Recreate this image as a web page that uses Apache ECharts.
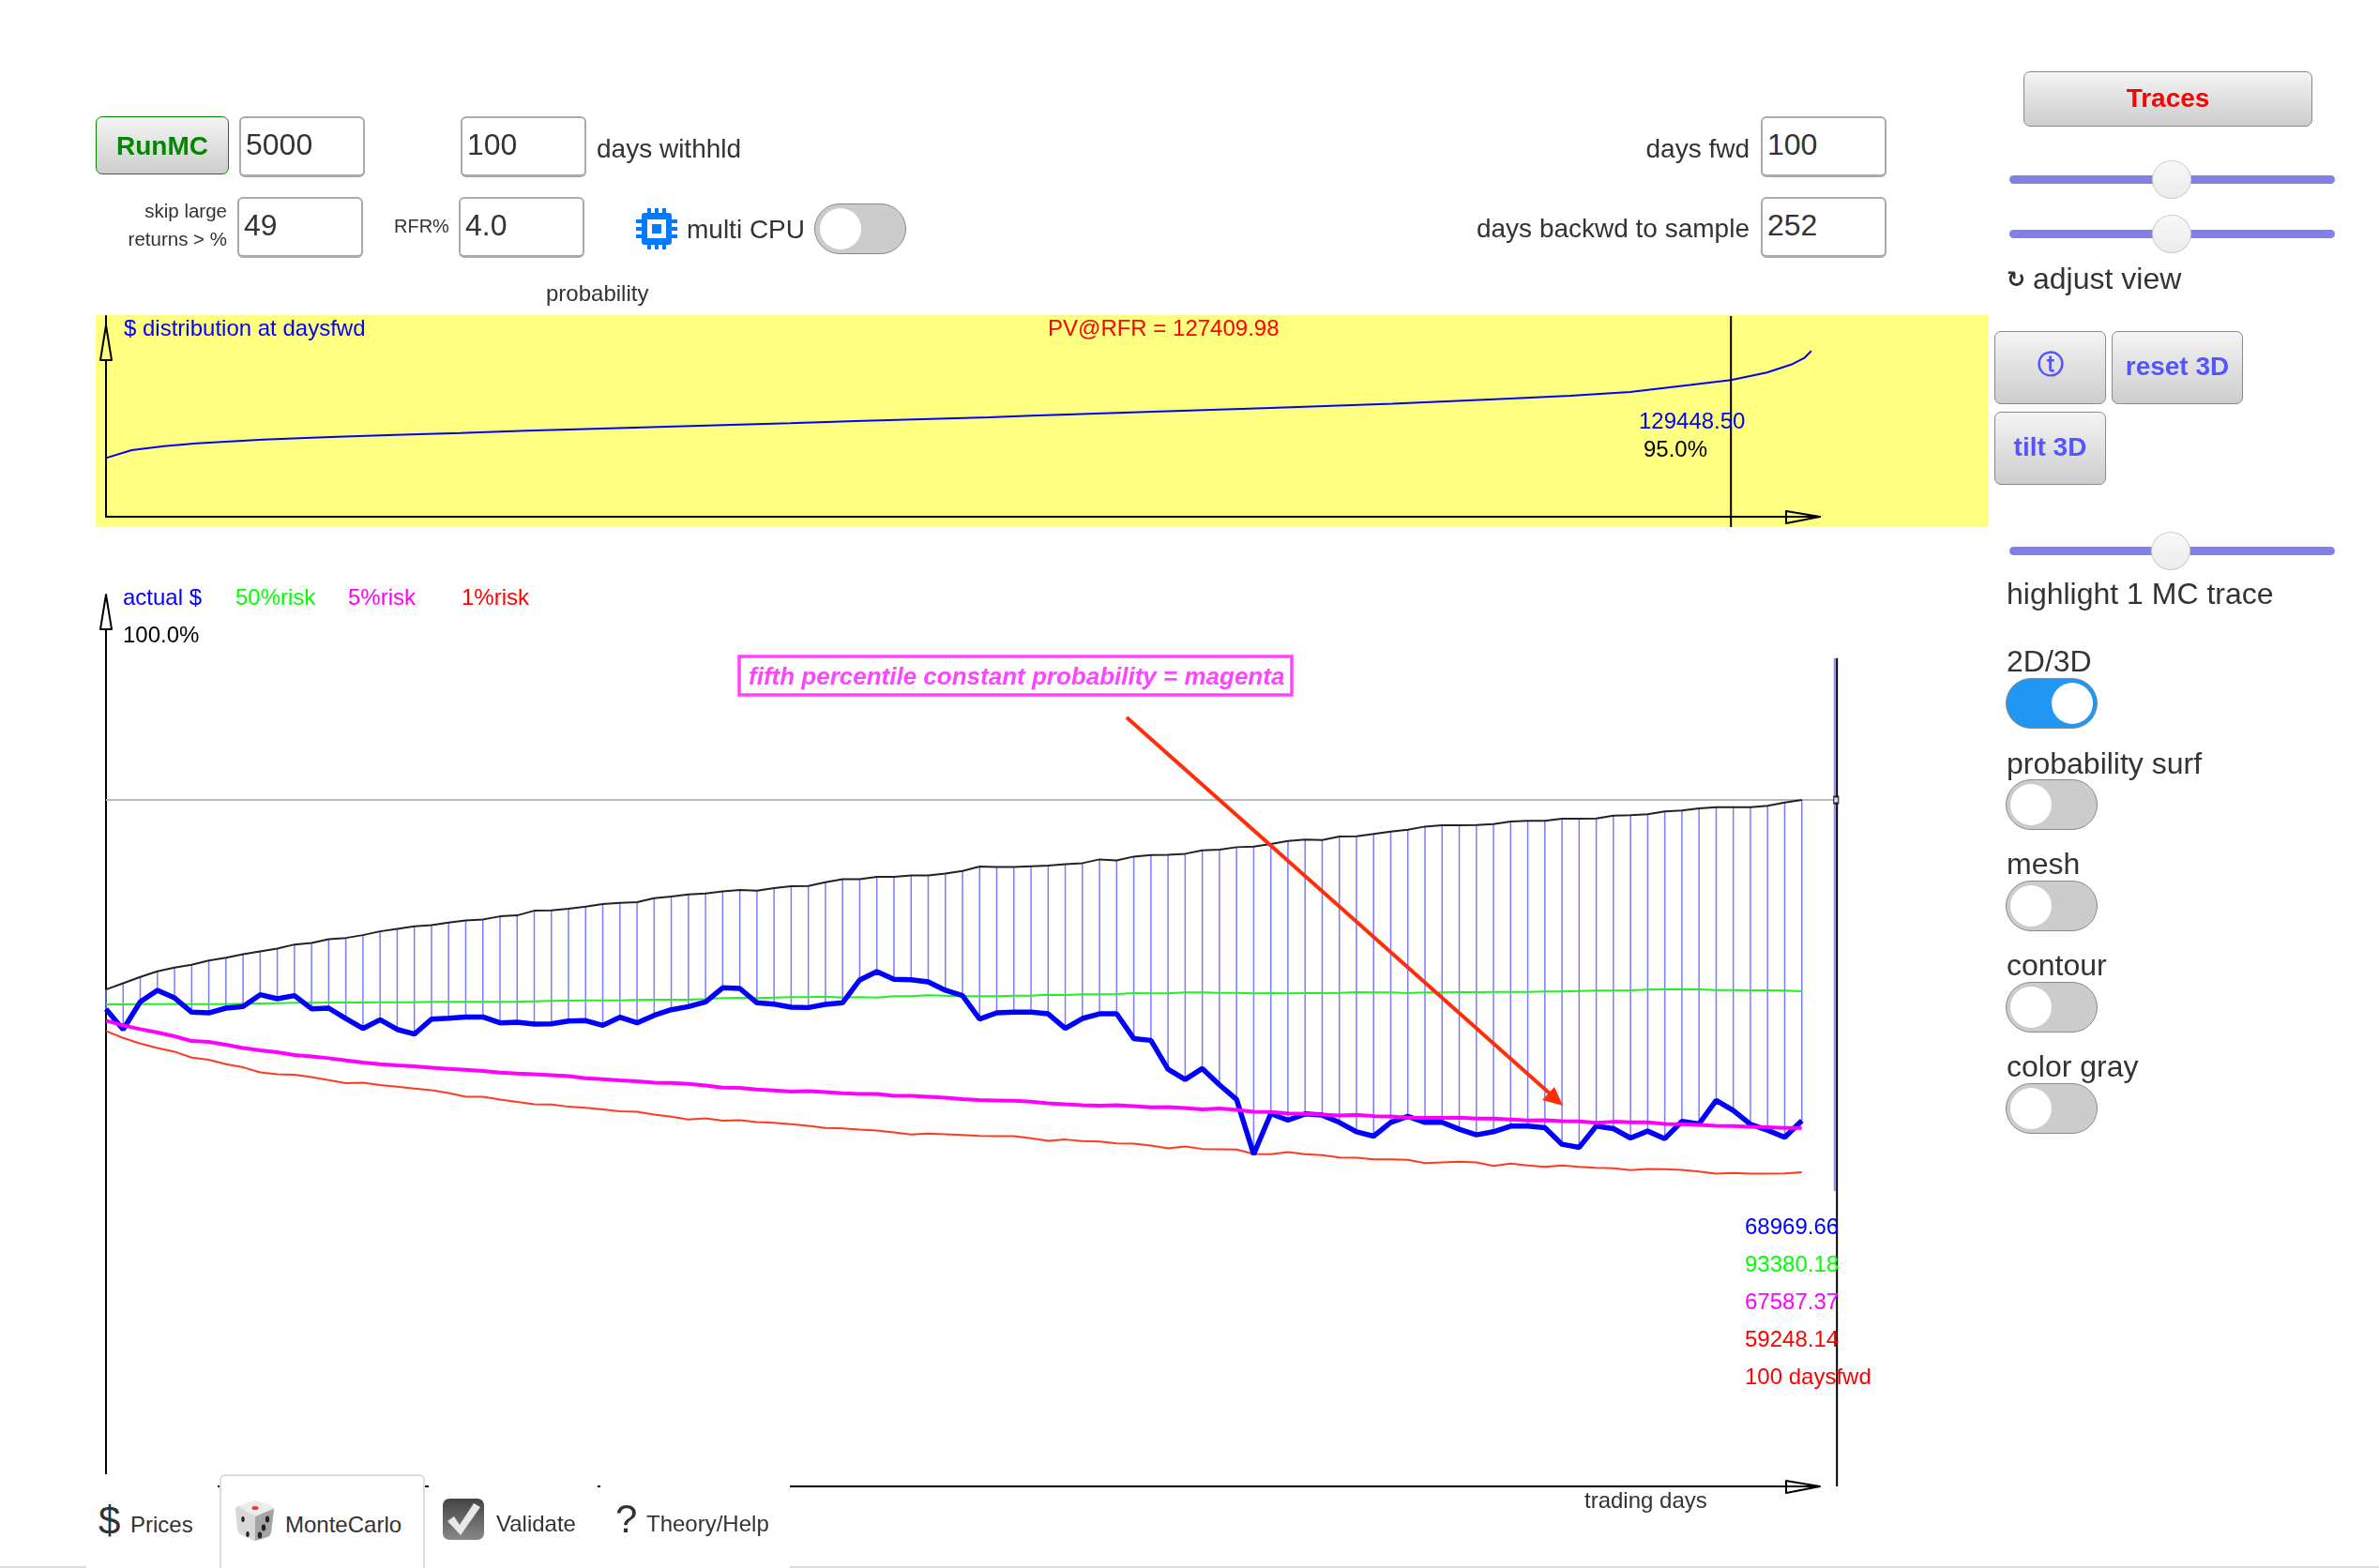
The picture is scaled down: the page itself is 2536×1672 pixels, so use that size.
<!DOCTYPE html>
<html>
<head>
<meta charset="utf-8">
<title>MonteCarlo</title>
<script src="https://cdn.jsdelivr.net/npm/echarts@6/dist/echarts.min.js"></script>
<style>
  html, body { margin: 0; padding: 0; background: #fff; }
  body { width: 2536px; height: 1672px; position: relative; overflow: hidden; font-family: "Liberation Sans", Arial, sans-serif; color: #333; }
  #chart { position: absolute; left: 0; top: 0; width: 2536px; height: 1672px; }
  .abs { position: absolute; white-space: nowrap; }
  .lbl { position: absolute; white-space: nowrap; line-height: 1; }
  .btn { position: absolute; box-sizing: border-box; border: 1.5px solid #888; border-radius: 7px; background: linear-gradient(#f4f4f4, #cdcdcd); font-weight: bold; font-size: 28px; text-align: center; }
  .inp { position: absolute; box-sizing: border-box; width: 134px; height: 65px; border: 2px solid #aaa; border-bottom-width: 3px; border-radius: 6px; background: #fff; font-size: 32px; line-height: 57px; padding-left: 5px; color: #333; }
  .tog { position: absolute; box-sizing: border-box; width: 98px; height: 54px; border: 1px solid #888; border-radius: 27px; background: #ccc; }
  .tog i { position: absolute; left: 4px; top: 4px; width: 44px; height: 44px; border-radius: 50%; background: #fff; }
  .tog.on { background: #2196f3; }
  .tog.on i { left: 48px; }
  .track { position: absolute; left: 2142px; width: 347px; height: 9px; border-radius: 5px; background: #8080e8; }
  .thumb { position: absolute; top: -16px; width: 42px; height: 41px; box-sizing: border-box; border-radius: 50%; border: 1px solid #ccc; background: linear-gradient(#f8f8f8, #ececec); }
  .tab { position: absolute; top: 1572px; height: 100px; background: #fff; box-sizing: border-box; }
  .tab.active { border: 2px solid #ddd; border-bottom: none; border-radius: 6px 6px 0 0; }
  .strip { position: absolute; top: 1670px; height: 2px; background: #ddd; }
</style>
</head>
<body>
<div id="chart"></div>

<div class="btn" style="left:102px;top:124px;width:142px;height:62px;line-height:62px;border-color:#080;color:#080">RunMC</div>
<div class="inp" style="left:255px;top:124px">5000</div>
<div class="inp" style="left:491px;top:124px">100</div>
<div class="lbl" style="left:636px;top:145px;font-size:28px">days withhld</div>
<div class="lbl" style="right:671px;top:145px;font-size:28px">days fwd</div>
<div class="inp" style="left:1877px;top:124px">100</div>

<div class="lbl" style="right:2294px;top:215px;font-size:20.5px">skip large</div>
<div class="lbl" style="right:2294px;top:245px;font-size:20.5px">returns &gt; %</div>
<div class="inp" style="left:253px;top:210px">49</div>
<div class="lbl" style="left:420px;top:231px;font-size:20px">RFR%</div>
<div class="inp" style="left:489px;top:210px">4.0</div>
<svg class="abs" style="left:677px;top:221px" width="46" height="46" viewBox="0 0 46 46">
  <rect x="7" y="6" width="32" height="34" rx="3" fill="#007aff"/>
  <g fill="#007aff">
    <rect x="13" y="1" width="4" height="44"/><rect x="21" y="1" width="4" height="44"/><rect x="29" y="1" width="4" height="44"/>
    <rect x="1" y="13" width="44" height="4"/><rect x="1" y="21" width="44" height="4"/><rect x="1" y="29" width="44" height="4"/>
  </g>
  <rect x="13" y="13" width="20" height="20" fill="#fff"/>
  <rect x="18" y="18" width="10" height="10" fill="#007aff"/>
</svg>
<div class="lbl" style="left:732px;top:231px;font-size:28px">multi CPU</div>
<div class="tog" style="left:868px;top:217px"><i style="left:5px"></i></div>
<div class="lbl" style="right:671px;top:230px;font-size:28px">days backwd to sample</div>
<div class="inp" style="left:1877px;top:210px">252</div>
<div class="lbl" style="left:582px;top:301px;font-size:24px">probability</div>

<div class="btn" style="left:2157px;top:76px;width:308px;height:59px;line-height:55px;color:#f00">Traces</div>
<div class="track" style="top:187px"><div class="thumb" style="left:152px"></div></div>
<div class="track" style="top:245px"><div class="thumb" style="left:152px"></div></div>
<div class="lbl" style="left:2139px;top:286px;font-size:24px;font-weight:bold;font-family:'DejaVu Sans'">&#8635;</div>
<div class="lbl" style="left:2167px;top:281px;font-size:32px">adjust view</div>
<div class="btn" style="left:2126px;top:353px;width:119px;height:78px;line-height:70px;color:#5555ff;font-family:'DejaVu Sans'">&#9443;</div>
<div class="btn" style="left:2251px;top:353px;width:140px;height:78px;line-height:74px;color:#5555ff">reset 3D</div>
<div class="btn" style="left:2126px;top:439px;width:119px;height:78px;line-height:74px;color:#5555ff">tilt 3D</div>
<div class="track" style="top:583px"><div class="thumb" style="left:151px"></div></div>
<div class="lbl" style="left:2139px;top:617px;font-size:32px">highlight 1 MC trace</div>

<div class="lbl" style="left:2139px;top:689px;font-size:32px">2D/3D</div>
<div class="tog on" style="left:2138px;top:723px"><i></i></div>
<div class="lbl" style="left:2139px;top:798px;font-size:32px">probability surf</div>
<div class="tog" style="left:2138px;top:831px"><i></i></div>
<div class="lbl" style="left:2139px;top:905px;font-size:32px">mesh</div>
<div class="tog" style="left:2138px;top:939px"><i></i></div>
<div class="lbl" style="left:2139px;top:1013px;font-size:32px">contour</div>
<div class="tog" style="left:2138px;top:1047px"><i></i></div>
<div class="lbl" style="left:2139px;top:1121px;font-size:32px">color gray</div>
<div class="tog" style="left:2138px;top:1155px"><i></i></div>

<!-- tab bar sits on top of the chart, it hides the axis ends like the real page -->
<div class="tab" style="left:92px;width:140px">
  <div class="lbl" style="left:13px;top:29px;font-size:42px">$</div>
  <div class="lbl" style="left:47px;top:42px;font-size:24px">Prices</div>
</div>
<div class="tab active" style="left:234px;width:219px">
  <svg class="abs" style="left:13px;top:24px" width="46" height="46" viewBox="0 0 46 46">
    <path d="M23 2 L41 9 Q44 10 43 14 L40 36 Q39 40 36 41 L23 45 Q21 45 20 44 L7 38 Q4 36 4 33 L2 12 Q2 9 5 8 Z" fill="#d8d8d8"/>
    <path d="M23 19 L43 11 L40 36 Q39 40 36 41 L23 45 Z" fill="#a4a4a4"/>
    <path d="M5 8 L23 2 L43 10 L23 19 Z" fill="#ececec"/>
    <ellipse cx="23" cy="10" rx="3.5" ry="2" fill="#e33"/>
    <ellipse cx="10" cy="22" rx="1.7" ry="3" fill="#222"/><ellipse cx="15" cy="38" rx="1.7" ry="3" fill="#222"/>
    <ellipse cx="36" cy="22" rx="2.2" ry="3.4" fill="#222"/><ellipse cx="32" cy="31" rx="2.2" ry="3.4" fill="#222"/><ellipse cx="28" cy="39" rx="2.2" ry="3.4" fill="#222"/>
  </svg>
  <div class="lbl" style="left:68px;top:40px;font-size:24px">MonteCarlo</div>
</div>
<div class="tab" style="left:457px;width:180px">
  <svg class="abs" style="left:14px;top:25px" width="46" height="46" viewBox="0 0 46 46">
    <defs><linearGradient id="chk" x1="0" y1="0" x2="0" y2="1"><stop offset="0" stop-color="#444"/><stop offset="1" stop-color="#888"/></linearGradient></defs>
    <rect x="1" y="1" width="44" height="44" rx="7" fill="url(#chk)"/>
    <path d="M6 25 L13 20 L19 29 L34 6 L41 10 L20 40 Z" fill="#e8e8e8"/>
  </svg>
  <div class="lbl" style="left:72px;top:41px;font-size:24px">Validate</div>
</div>
<div class="tab" style="left:640px;width:202px">
  <div class="lbl" style="left:16px;top:27px;font-size:42px">?</div>
  <div class="lbl" style="left:49px;top:41px;font-size:24px">Theory/Help</div>
</div>
<div class="strip" style="left:0;width:92px"></div>
<div class="strip" style="left:842px;right:0"></div>

<script>
// probability axis of the top panel, 0..100 %, with the $ value at that probability
const distProb = [0, 1.5, 3.4, 5.3, 9.2, 13.1, 16.9, 20.7, 24.6, 28.5, 32.3, 36.1, 40, 43.8, 47.7, 51.6, 54.1,
  61.2, 68.1, 75.2, 82.1, 85.6, 89.1, 92.6, 95, 97.1, 98.6, 99.3, 99.7];
const distValue = [55630, 63040, 66890, 69560, 73110, 75480, 77550, 79330, 81400, 83180, 84960, 86730, 88510, 90590, 92360, 94140, 95620,
  99470, 103030, 106880, 111910, 114580, 118130, 124650, 129448.5, 136560, 144550, 150480, 156990];

// trading days 0..99 of the lower panel, all read in $
const actual = [
  90010, 86170, 91370, 93550, 92130, 89420, 89300, 90190, 90480, 92720,
  91960, 92550, 90070, 90190, 88240, 86350, 88000, 86170, 85290, 88120,
  88300, 88530, 88530, 87410, 87530, 87180, 87240, 87770, 87830, 86940,
  88470, 87410, 88830, 89890, 90480, 91370, 94020, 93900, 91190, 90950,
  90360, 90300, 90890, 91190, 95500, 97090, 95610, 95550, 95140, 93550,
  92550, 88120, 89300, 89420, 89420, 89120, 86350, 88240, 89120, 89120,
  84460, 84110, 78680, 76730, 78800, 75730, 72960, 62630, 70300, 69060,
  70240, 70010, 68650, 66880, 66050, 68650, 69770, 68650, 68650, 67350,
  66290, 66880, 67940, 67940, 67650, 64520, 63930, 67940, 67470, 65700,
  67000, 65580, 68830, 68360, 72780, 70890, 68300, 67180, 65820, 68970];
const risk50 = [
  90890, 90890, 90950, 90950, 90950, 90950, 90950, 90950, 91010, 91070,
  91130, 91190, 91190, 91250, 91250, 91250, 91310, 91310, 91310, 91370,
  91370, 91370, 91370, 91370, 91420, 91480, 91540, 91600, 91660, 91660,
  91660, 91720, 91780, 91780, 91780, 91900, 92070, 92130, 92070, 92190,
  92250, 92250, 92370, 92190, 92250, 92190, 92430, 92430, 92600, 92550,
  92430, 92430, 92430, 92550, 92550, 92720, 92660, 92780, 92780, 92840,
  93020, 92960, 92960, 93140, 93140, 93080, 93080, 92960, 93020, 92960,
  93020, 93020, 93080, 93190, 93140, 93140, 93020, 93140, 93140, 93190,
  93190, 93250, 93250, 93250, 93310, 93310, 93430, 93490, 93490, 93550,
  93670, 93730, 93780, 93730, 93610, 93610, 93550, 93550, 93490, 93380];
const risk5 = [
  87830, 86940, 86230, 85580, 84880, 83990, 83810, 83280, 82690, 82220,
  81870, 81340, 81100, 80750, 80330, 79920, 79620, 79390, 79210, 78980,
  78740, 78560, 78330, 78030, 77850, 77740, 77560, 77380, 76970, 76790,
  76560, 76380, 76140, 76080, 75910, 75610, 75200, 75140, 74850, 74670,
  74430, 74550, 74370, 74140, 74020, 74020, 73670, 73670, 73490, 73310,
  73020, 72840, 72780, 72720, 72540, 72250, 72070, 71900, 71780, 71900,
  71720, 71480, 71540, 71360, 71070, 71250, 71010, 70660, 70600, 70360,
  70240, 70130, 69950, 70070, 69830, 69770, 69540, 69480, 69480, 69540,
  69360, 69360, 69180, 69000, 69060, 68890, 68830, 68590, 68770, 68650,
  68650, 68360, 68300, 68180, 68000, 67940, 67820, 67710, 67590, 67590];
const risk1 = [
  85880, 84580, 83520, 82690, 81980, 80860, 80450, 79620, 79030, 78090,
  77740, 77620, 77210, 76620, 76030, 76140, 75670, 75380, 75020, 74730,
  74200, 73490, 73490, 72960, 72490, 72070, 72010, 71600, 71420, 71070,
  70720, 70660, 70130, 69710, 69180, 69420, 68950, 69060, 68710, 68590,
  68300, 68000, 67590, 67530, 67290, 67120, 66760, 66350, 66530, 66410,
  66290, 66110, 66050, 66050, 65640, 65170, 65410, 65110, 65050, 64700,
  64640, 64280, 63750, 64110, 63640, 63580, 63520, 62690, 62630, 63050,
  62630, 62460, 62040, 61980, 61690, 61690, 61570, 60980, 61100, 61220,
  61100, 60450, 60860, 60510, 60270, 60510, 60270, 60100, 59980, 59620,
  59860, 59800, 59680, 59390, 58970, 59090, 58970, 58970, 59030, 59250];
const risk95 = [
  93700, 94880, 96060, 97120, 97830, 98360, 99180, 99710, 100360, 100890,
  101420, 102190, 102490, 103190, 103430, 103960, 104670, 105140, 105610, 105850,
  106320, 106730, 106910, 107500, 107680, 108560, 108620, 108920, 109330, 109800,
  110040, 110160, 110920, 111220, 111630, 111810, 112220, 112460, 112340, 112810,
  113170, 113220, 113930, 114520, 114520, 114940, 114940, 115230, 115230, 115580,
  116060, 116880, 116820, 116820, 116940, 117060, 117350, 117530, 118240, 118060,
  118770, 119070, 119120, 119300, 119950, 120070, 120540, 120660, 121130, 121720,
  121960, 121900, 122550, 122610, 123020, 123490, 123840, 124430, 124670, 124670,
  124730, 124910, 125380, 125500, 125500, 125910, 125910, 125970, 126500, 126560,
  126740, 127270, 127440, 127860, 128090, 128090, 128090, 128330, 128980, 129448.5];

const pv = 127409.98;
const pct95 = 129448.50;
const endLabels = ['68969.66', '93380.18', '67587.37', '59248.14', '100 daysfwd'];
const endColors = ['#00f', '#0f0', '#f0f', '#f00', '#f00'];
const legendNames = ['actual $', '50%risk', '5%risk', '1%risk'];
const legendX = [131, 251, 371, 492];
const legendColors = ['#00f', '#0f0', '#f0f', '#f00'];

const FONT = '"Liberation Sans", Arial, sans-serif';
const days = actual.map((v, i) => i);
const pairs = (ys) => ys.map((y, i) => [days[i], y]);

// text by baseline, easier to line up with the reference
function label(text, x, base, color, size, extra) {
  return {
    type: 'text', z: 100,
    style: Object.assign({
      text: text, x: x, y: base - size * 0.24,
      fill: color, font: size + 'px ' + FONT,
      textAlign: 'left', textVerticalAlign: 'middle'
    }, extra || {})
  };
}
function arrow(points, fill) {
  return { type: 'polygon', z: 90, shape: { points: points }, style: { fill: fill, stroke: '#000', lineWidth: 2, lineJoin: 'round' } };
}

const chart = echarts.init(document.getElementById('chart'));

const graphic = [
  { type: 'rect', z: -1, shape: { x: 102, y: 336, width: 2017, height: 226 }, style: { fill: '#ffff80' } },
  arrow([[113, 347], [107, 384], [119, 384]], '#ffff80'),
  arrow([[1904, 545], [1940, 551], [1904, 558]], 'transparent'),
  arrow([[113, 634], [107, 671], [119, 671]], '#fff'),
  arrow([[1904, 1579], [1940, 1585], [1904, 1592]], 'transparent'),
  label('$ distribution at daysfwd', 132, 357, '#00f', 24),
  label('PV@RFR = ' + pv.toFixed(2), 1117, 357, '#f00', 24),
  label(pct95.toFixed(2), 1747, 456, '#00f', 24),
  label('95.0%', 1752, 486, '#000', 24),
  label('100.0%', 131, 684, '#000', 24),
  label('trading days', 1689, 1607, '#333', 24),
  // annotation over the lower panel
  { type: 'rect', z: 95, shape: { x: 788, y: 700, width: 589, height: 41 }, style: { fill: '#fff', stroke: '#f4f', lineWidth: 3.5 } },
  label('fifth percentile constant probability = magenta', 798, 729, '#f4f', 26, { font: 'italic bold 26px ' + FONT }),
  { type: 'line', z: 95, shape: { x1: 1201, y1: 765, x2: 1652, y2: 1166 }, style: { stroke: '#ff2d0a', lineWidth: 4 } },
  { type: 'polygon', z: 95, shape: { points: [[1666, 1179], [1657, 1159], [1644, 1173]] }, style: { fill: '#ff2d0a' } }
];
legendNames.forEach((n, i) => graphic.push(label(n, legendX[i], 644, legendColors[i], 24)));
endLabels.forEach((t, i) => graphic.push(label(t, 1860, 1315 + i * 40, endColors[i], 24)));

function plainAxis(type, min, max, idx) {
  return {
    type: type, min: min, max: max, gridIndex: idx, silent: true,
    axisLine: { show: true, onZero: false, lineStyle: { color: '#000', width: 2 } },
    axisTick: { show: false }, axisLabel: { show: false }, splitLine: { show: false }
  };
}
function lineSeries(name, data, color, width, idx, z) {
  return {
    name: name, type: 'line', data: data, xAxisIndex: idx, yAxisIndex: idx, z: z,
    clip: false, symbol: 'none', silent: true, animation: false,
    lineStyle: { color: color, width: width }
  };
}
// straight segments [x1, y1, x2, y2] through the lower panel's scales, may run past the axis end
function segments(name, data, color, width, z) {
  return {
    name: name, type: 'custom', xAxisIndex: 1, yAxisIndex: 1, z: z, silent: true, clip: false,
    data: data,
    renderItem: function (params, api) {
      const a = api.coord([api.value(0), api.value(1)]);
      const b = api.coord([api.value(2), api.value(3)]);
      return {
        type: 'line',
        shape: { x1: a[0], y1: a[1], x2: b[0], y2: b[1] },
        style: { stroke: color, lineWidth: width }
      };
    }
  };
}

const option = {
  animation: false,
  backgroundColor: '#fff',
  textStyle: { fontFamily: FONT },
  graphic: graphic,
  grid: [
    { left: 113, top: 337, width: 1827, height: 214 },
    { left: 113, top: 635, width: 1826, height: 950 }
  ],
  xAxis: [plainAxis('value', 0, 100.2, 0), plainAxis('value', 0, 100, 1)],
  yAxis: [plainAxis('value', 0, 190000, 0), plainAxis('value', 0, 168000, 1)],
  series: [
    lineSeries('distribution', distProb.map((p, i) => [p, distValue[i]]), '#00f', 2, 0, 5),
    lineSeries('95 marker', [[95, -9700], [95, 190000]], '#000', 2, 0, 6),

    // thin bars between the 95% line and the actual price
    segments('range', days.map((d, i) => [d, risk95[i], d, actual[i]]), '#7b7bff', 1.5, 2),
    segments('95 level', [[0, pct95, 101, pct95]], '#bbb', 2, 1),
    segments('days fwd light', [[100.92, 55700, 100.92, 156200]], '#8a8af0', 2, 3),
    segments('days fwd', [[101.05, 0, 101.05, 156200]], '#000', 2, 3),
    {
      type: 'scatter', xAxisIndex: 1, yAxisIndex: 1, z: 4, silent: true, clip: false,
      data: [[101, pct95]], symbol: 'rect', symbolSize: [5, 7],
      itemStyle: { color: '#fff', borderColor: '#000', borderWidth: 1.5 }
    },
    lineSeries('95%', pairs(risk95), '#222', 2, 1, 5),
    lineSeries('50%risk', pairs(risk50), '#22f022', 2, 1, 5),
    lineSeries('1%risk', pairs(risk1), '#ff3a20', 2, 1, 5),
    lineSeries('actual $', pairs(actual), '#00f', 5.5, 1, 6),
    lineSeries('5%risk', pairs(risk5), '#f0f', 4, 1, 7)
  ]
};
chart.setOption(option);
</script>
</body>
</html>
